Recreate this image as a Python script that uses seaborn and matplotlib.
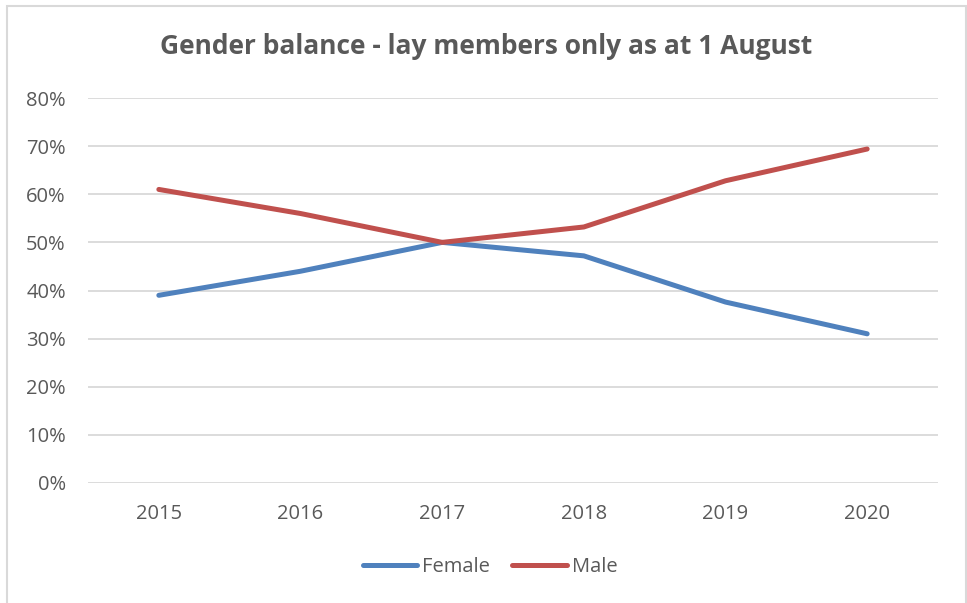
import matplotlib.pyplot as plt
import seaborn as sns
import pandas as pd
from matplotlib.patches import Rectangle
from matplotlib.ticker import PercentFormatter

# Data
years = ['2015', '2016', '2017', '2018', '2019', '2020']
female = [39.0, 44.0, 50.0, 47.2, 37.6, 31.0]
male = [61.0, 56.0, 50.0, 53.2, 62.8, 69.4]

df = pd.DataFrame({
    'Year': years * 2,
    'Share': female + male,
    'Gender': ['Female'] * len(years) + ['Male'] * len(years),
})

sns.set_theme(style='white')
plt.rcParams['font.family'] = ['Open Sans', 'DejaVu Sans']

text_grey = '#595959'
grid_grey = '#D9D9D9'

W, H = 967, 603
fig = plt.figure(figsize=(W / 100, H / 100), dpi=100)
# light grey frame round the chart (bottom edge runs off the image)
fig.add_artist(Rectangle((7 / W, -0.05), (966 - 7) / W, 1 - 6 / H + 0.05,
                         transform=fig.transFigure, fill=False,
                         edgecolor=grid_grey, linewidth=1.5))

ax = fig.add_axes([88 / W, 1 - 483 / H, (938 - 88) / W, (483 - 98) / H])

sns.lineplot(data=df, x='Year', y='Share', hue='Gender',
             palette={'Female': '#4F81BD', 'Male': '#C0504D'},
             linewidth=3.6, sort=False, ax=ax)
for line in ax.lines:
    line.set_solid_capstyle('round')
    line.set_solid_joinstyle('round')

ax.set_xlim(-0.5, len(years) - 0.5)
ax.set_ylim(0, 80)
ax.set_yticks(range(0, 81, 10))
ax.yaxis.set_major_formatter(PercentFormatter(decimals=0))
ax.grid(axis='y', color=grid_grey, linewidth=1.3)
ax.set_axisbelow(True)
for s in ax.spines.values():
    s.set_visible(False)
ax.tick_params(axis='both', length=0, labelsize=14.5, labelcolor=text_grey)
ax.tick_params(axis='x', pad=15)
ax.tick_params(axis='y', pad=16)
ax.set_xlabel('')
ax.set_ylabel('')

fig.text(486 / W, 1 - 46 / H, 'Gender balance - lay members only as at 1 August',
         ha='center', va='center', fontsize=19, fontweight='bold', color=text_grey)

handles, labels = ax.get_legend_handles_labels()
leg = ax.legend(handles, labels, loc='center', bbox_to_anchor=(490 / W, 1 - 567 / H),
                bbox_transform=fig.transFigure, ncol=2, frameon=False,
                fontsize=14.5, labelcolor=text_grey, handlelength=2.7,
                handletextpad=0.25, columnspacing=1.1)
for h in leg.get_lines():
    h.set_linewidth(3.6)
    h.set_solid_capstyle('round')

plt.savefig('out.png', dpi=100)
